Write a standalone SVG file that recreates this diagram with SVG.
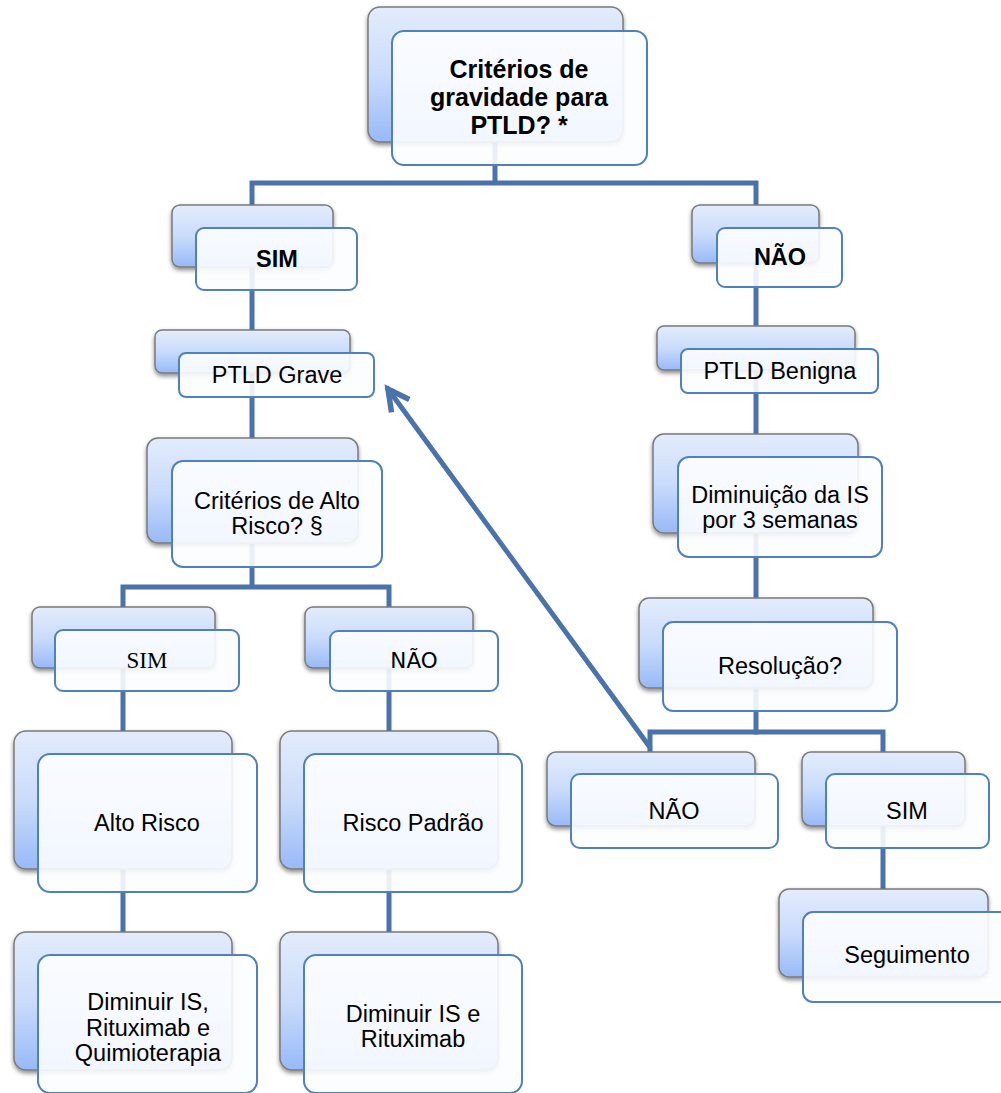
<svg xmlns="http://www.w3.org/2000/svg" width="1001" height="1093" viewBox="0 0 1001 1093">
<defs>
<linearGradient id="bg" x1="0" y1="0" x2="0" y2="1">
<stop offset="0" stop-color="#e3ecfc"/>
<stop offset="0.5" stop-color="#cadcfb"/>
<stop offset="1" stop-color="#98b9f8"/>
</linearGradient>
<filter id="sh" x="-10%" y="-10%" width="125%" height="130%">
<feDropShadow dx="0" dy="2.5" stdDeviation="2" flood-color="#000" flood-opacity="0.45"/>
</filter>
<marker id="ah" markerUnits="userSpaceOnUse" viewBox="0 0 30 30" markerWidth="30" markerHeight="30" refX="24" refY="15" orient="auto">
<path d="M3,4 L24,15 L3,26" fill="none" stroke="#4a73ab" stroke-width="5.5" stroke-linejoin="miter"/>
</marker>
<style>
.back{fill:url(#bg);stroke:#7a7a7a;stroke-width:1.5;filter:url(#sh)}
.front{fill:#fcfdff;fill-opacity:0.9;stroke:#4f81bd;stroke-width:2}
.conn{stroke:#4a73ab;stroke-width:5;fill:none;stroke-linecap:square}
.t{font-family:"Liberation Sans",Arial,sans-serif;font-size:23.5px;fill:#000;text-anchor:middle}
.b{font-weight:bold;font-size:23.5px}
.big{font-weight:bold;font-size:25px}
.serif{font-family:"Liberation Serif","Times New Roman",serif;font-size:23px}
.dv{font-family:"DejaVu Sans",sans-serif;font-size:21.5px}
</style>
</defs>
<rect width="1001" height="1093" fill="#ffffff"/>
<g id="connectors">
<path class="conn" d="M495,100 V183 M252,183 H756 M252,183 V440 M756,183 V732"/>
<path class="conn" d="M252,440 V587 M123,587 H389 M123,587 V935 M389,587 V935"/>
<path class="conn" d="M650,732 H883 M650,732 V755 M883,732 V892"/>
<path class="conn" d="M649,746 L388,389" marker-end="url(#ah)" stroke-linecap="butt"/>
</g>
<g id="n-criterios-gravidade">
<rect class="back" x="368" y="7" width="255" height="135" rx="12"/>
<rect class="front" x="392" y="31" width="255" height="134" rx="12"/>
<text class="t big" x="519" y="78">Critérios de</text>
<text class="t big" x="519" y="106">gravidade para</text>
<text class="t big" x="519" y="134">PTLD? *</text>
</g>
<g id="n-sim-1">
<rect class="back" x="172" y="205" width="161" height="62" rx="8"/>
<rect class="front" x="196" y="228" width="161" height="62" rx="8"/>
<text class="t b" x="277" y="267">SIM</text>
</g>
<g id="n-nao-1">
<rect class="back" x="692" y="205" width="127" height="58" rx="8"/>
<rect class="front" x="717" y="228" width="125" height="59" rx="8"/>
<text class="t b" x="780" y="265">NÃO</text>
</g>
<g id="n-ptld-grave">
<rect class="back" x="155" y="330" width="195" height="43" rx="7"/>
<rect class="front" x="179" y="353" width="195" height="44" rx="7"/>
<text class="t" x="277" y="383">PTLD Grave</text>
</g>
<g id="n-ptld-benigna">
<rect class="back" x="657" y="326" width="198" height="44" rx="7"/>
<rect class="front" x="681" y="349" width="197" height="44" rx="7"/>
<text class="t" x="780" y="379">PTLD Benigna</text>
</g>
<g id="n-criterios-alto-risco">
<rect class="back" x="147" y="438" width="211" height="105" rx="11"/>
<rect class="front" x="172" y="461" width="210" height="106" rx="11"/>
<text class="t" x="277" y="509">Critérios de Alto</text>
<text class="t" x="277" y="534">Risco? §</text>
</g>
<g id="n-diminuicao-is">
<rect class="back" x="653" y="434" width="205" height="99" rx="11"/>
<rect class="front" x="678" y="457" width="204" height="100" rx="11"/>
<text class="t" x="780" y="503">Diminuição da IS</text>
<text class="t" x="780" y="528">por 3 semanas</text>
</g>
<g id="n-resolucao">
<rect class="back" x="639" y="598" width="234" height="90" rx="10"/>
<rect class="front" x="663" y="622" width="234" height="89" rx="10"/>
<text class="t" x="780" y="674">Resolução?</text>
</g>
<g id="n-sim-alto">
<rect class="back" x="32" y="607" width="183" height="61" rx="8"/>
<rect class="front" x="55" y="630" width="184" height="61" rx="8"/>
<text class="t serif" x="147" y="668">SIM</text>
</g>
<g id="n-nao-padrao">
<rect class="back" x="305" y="607" width="168" height="61" rx="8"/>
<rect class="front" x="330" y="631" width="168" height="60" rx="8"/>
<text class="t dv" x="414" y="668">NÃO</text>
</g>
<g id="n-alto-risco">
<rect class="back" x="14" y="731" width="218" height="138" rx="12"/>
<rect class="front" x="38" y="754" width="219" height="138" rx="12"/>
<text class="t" x="147" y="831">Alto Risco</text>
</g>
<g id="n-risco-padrao">
<rect class="back" x="280" y="731" width="218" height="138" rx="12"/>
<rect class="front" x="304" y="754" width="218" height="138" rx="12"/>
<text class="t" x="413" y="831">Risco Padrão</text>
</g>
<g id="n-diminuir-quimio">
<rect class="back" x="14" y="932" width="218" height="138" rx="12"/>
<rect class="front" x="38" y="955" width="219" height="138" rx="12"/>
<text class="t" x="148" y="1010">Diminuir IS,</text>
<text class="t" x="148" y="1036">Rituximab e</text>
<text class="t" x="148" y="1061">Quimioterapia</text>
</g>
<g id="n-diminuir-rituximab">
<rect class="back" x="280" y="932" width="218" height="138" rx="12"/>
<rect class="front" x="304" y="955" width="218" height="138" rx="12"/>
<text class="t" x="413" y="1022">Diminuir IS e</text>
<text class="t" x="413" y="1047">Rituximab</text>
</g>
<g id="n-nao-2">
<rect class="back" x="547" y="752" width="208" height="74" rx="9"/>
<rect class="front" x="571" y="774" width="207" height="74" rx="9"/>
<text class="t" x="674" y="819">NÃO</text>
</g>
<g id="n-sim-2">
<rect class="back" x="802" y="752" width="163" height="74" rx="9"/>
<rect class="front" x="826" y="774" width="163" height="74" rx="9"/>
<text class="t" x="907" y="819">SIM</text>
</g>
<g id="n-seguimento">
<rect class="back" x="779" y="889" width="209" height="88" rx="10"/>
<rect class="front" x="803" y="912" width="209" height="90" rx="10"/>
<text class="t" x="907" y="963">Seguimento</text>
</g>
</svg>
